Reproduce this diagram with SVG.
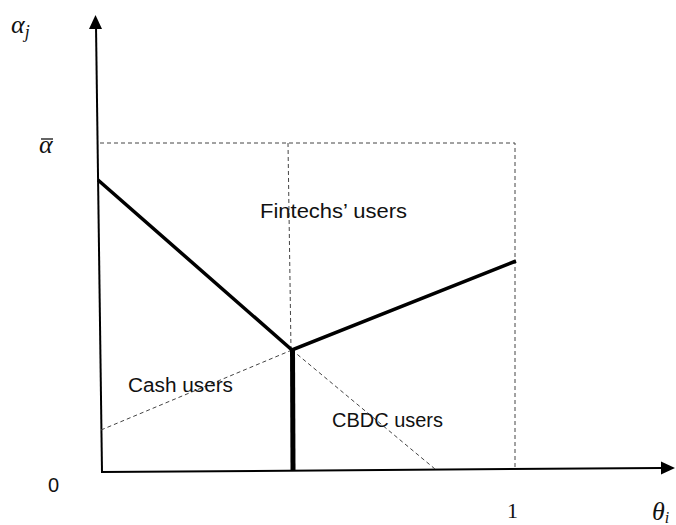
<svg xmlns="http://www.w3.org/2000/svg" width="676" height="525" viewBox="0 0 676 525">
<style>
.axis{stroke:#000;stroke-width:2;fill:none}
.dash{stroke:#444;stroke-width:1;stroke-dasharray:4,3;fill:none}
.thick{stroke:#000;stroke-width:3.5;fill:none;stroke-linejoin:miter}
.lbl{font-family:"Liberation Sans",Arial,sans-serif;font-size:20px;fill:#111}
.math{font-family:"Liberation Serif","DejaVu Serif",serif;font-style:italic;font-size:26px;fill:#111}
.num{font-family:"Liberation Serif","DejaVu Serif",serif;font-size:22px;fill:#111}
</style>
<rect width="676" height="525" fill="#fff"/>
<g id="connectors">
<line class="axis" x1="102" y1="472" x2="96" y2="26"/>
<polygon points="95.5,15 89,29 102,29" fill="#000"/>
<line class="axis" x1="101" y1="472" x2="662" y2="468"/>
<polygon points="675,468 661,461.5 661,474.5" fill="#000"/>
<path class="dash" d="M100,143 H515 V470"/>
<line class="dash" x1="288" y1="143" x2="291" y2="350"/>
<line class="dash" x1="101" y1="430" x2="292" y2="350"/>
<line class="dash" x1="292" y1="350" x2="435" y2="469"/>
<polyline class="thick" points="98,180 292,350 516,261"/>
<line stroke="#000" stroke-width="5" x1="292.5" y1="349" x2="293" y2="470"/>
</g>
<g id="fintech"><text class="lbl" x="260" y="218" textLength="147" lengthAdjust="spacingAndGlyphs">Fintechs’ users</text></g>
<g id="cash"><text class="lbl" x="128" y="392" textLength="105" lengthAdjust="spacingAndGlyphs">Cash users</text></g>
<g id="cbdc"><text class="lbl" x="332" y="427" textLength="111" lengthAdjust="spacingAndGlyphs">CBDC users</text></g>
<g id="labels">
<text class="math" x="11" y="33">α<tspan font-size="18" dy="5">j</tspan></text>
<text class="math" x="39" y="153">α</text>
<line x1="41" y1="139" x2="53" y2="139" stroke="#111" stroke-width="1.3"/>
<text class="lbl" x="48" y="492" font-size="19">0</text>
<text class="num" x="507" y="518">1</text>
<text class="math" x="652" y="520">θ<tspan font-size="16" dy="3">i</tspan></text>
</g>
</svg>
